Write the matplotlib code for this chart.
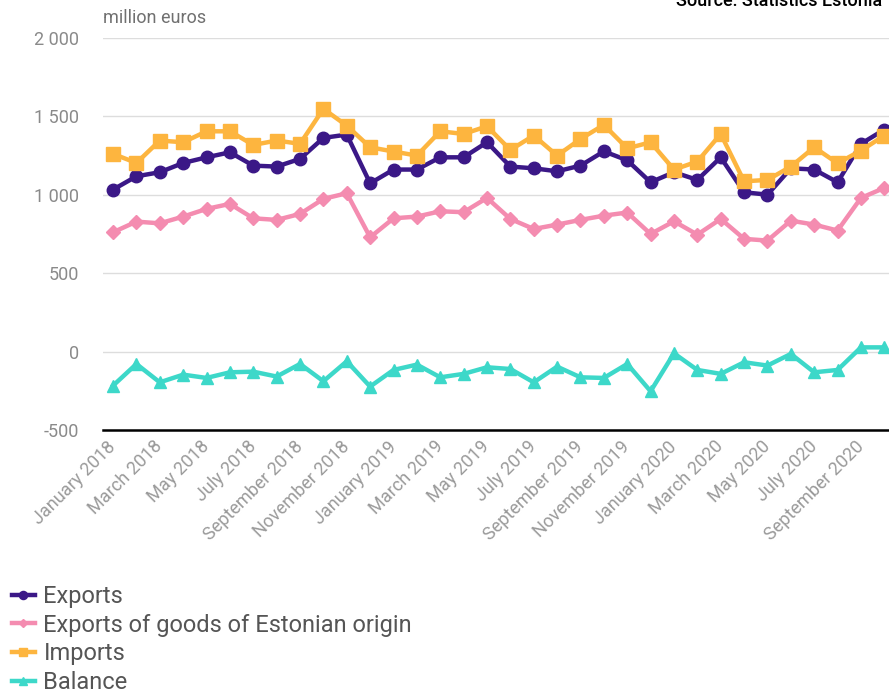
import matplotlib
matplotlib.use("Agg")
import matplotlib.pyplot as plt

plt.rcParams['font.family'] = ['Roboto', 'DejaVu Sans']

MONTHS = ['January', 'February', 'March', 'April', 'May', 'June', 'July',
          'August', 'September', 'October', 'November', 'December']
periods = [f"{MONTHS[i % 12]} {2018 + i // 12}" for i in range(34)]

exports = [1033, 1118, 1144, 1203, 1239, 1271, 1186, 1180, 1229, 1363, 1384,
           1073, 1161, 1161, 1239, 1239, 1335, 1180, 1169, 1150, 1186, 1277,
           1220, 1080, 1144, 1095, 1239, 1016, 1001, 1169, 1161, 1080, 1325, 1416]
exports_est = [761, 829, 818, 861, 910, 942, 850, 840, 878, 974, 1010,
               729, 850, 861, 895, 889, 980, 846, 782, 810, 840, 867,
               887, 750, 831, 746, 846, 719, 708, 835, 810, 772, 980, 1044]
imports = [1261, 1203, 1346, 1335, 1405, 1405, 1318, 1346, 1325, 1548, 1441,
           1303, 1276, 1250, 1405, 1388, 1437, 1286, 1378, 1250, 1356, 1446,
           1296, 1335, 1161, 1212, 1388, 1086, 1095, 1180, 1303, 1201, 1282, 1378]
balance = [-217, -79, -196, -147, -168, -132, -128, -159, -79, -189, -62,
           -223, -117, -83, -164, -142, -100, -111, -196, -96, -164, -168,
           -79, -253, -11, -117, -142, -68, -89, -15, -132, -117, 27, 27]

yticks = [-500, 0, 500, 1000, 1500, 2000]
ytick_labels = ['-500', '0', '500', '1 000', '1 500', '2 000']

series = [
    ('Exports', exports, '#3b1887', 'o', 9),
    ('Exports of goods of Estonian origin', exports_est, '#f48cb0', 'D', 7),
    ('Imports', imports, '#fdb53f', 's', 9.5),
    ('Balance', balance, '#3dd8c9', '^', 9),
]

fig = plt.figure(figsize=(8.89, 6.94), dpi=100)
ax = fig.add_axes([103 / 889, 1 - 430 / 694, 1 - 103 / 889, 392 / 694])

x = list(range(len(periods)))
for name, vals, color, marker, ms in series:
    ax.plot(x, vals, color=color, lw=3.2, marker=marker, ms=ms,
            label=name, clip_on=False, zorder=3)

ax.set_xlim(-0.43, 33.2)
ax.set_ylim(-500, 2000)
ax.set_yticks(yticks)
ax.set_yticklabels(ytick_labels, color='#8a8a8a', fontsize=13)
ax.tick_params(axis='y', length=0, pad=17)
ax.grid(axis='y', color='#dddddd', lw=1)
ax.set_axisbelow(True)

ax.set_xticks(x[::2])
ax.set_xticklabels(periods[::2], rotation=45, ha='right', va='center',
                   rotation_mode='anchor', fontsize=13, color='#9a9a9a')
ax.tick_params(axis='x', length=0, pad=10)

for s in ['top', 'right', 'left']:
    ax.spines[s].set_visible(False)
ax.spines['bottom'].set_color('black')
ax.spines['bottom'].set_linewidth(1.8)
ax.spines['bottom'].set_zorder(4)

fig.text(103 / 889, 1 - 23 / 694, 'million euros', fontsize=13,
         color='#707070', ha='left', va='baseline')
fig.text(882 / 889, 1 - 6 / 694, 'Source: Statistics Estonia', fontsize=13,
         color='black', ha='right', va='baseline', weight='medium')

fig.legend(loc='upper left', bbox_to_anchor=(0.013, 1 - 585 / 694),
           frameon=False, fontsize=17, labelcolor='#555555',
           handlelength=1.0, handletextpad=0.35, labelspacing=0.24,
           markerscale=0.65, borderaxespad=0.0, borderpad=0.0)

fig.savefig('out.png', dpi=100)
